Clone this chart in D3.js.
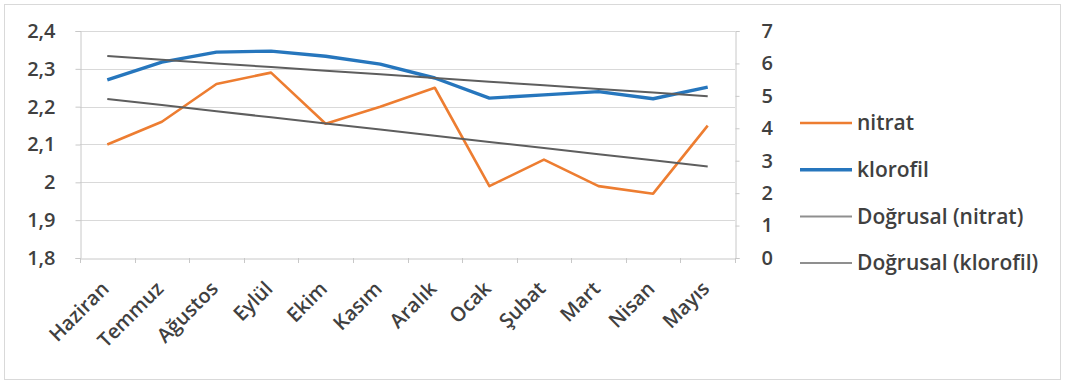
<!DOCTYPE html>
<html>
<head>
<meta charset="utf-8">
<script src="https://cdn.jsdelivr.net/npm/d3@7"></script>
<style>
  html, body { margin: 0; padding: 0; background: #fff; }
  svg { display: block; }
  text { font-family: "Open Sans", "Noto Sans", sans-serif; fill: #404040; font-weight: 600; }
</style>
</head>
<body>
<svg id="chart" width="1065" height="385"></svg>
<script>
// Monthly categories (June to May)
const months = ["Haziran", "Temmuz", "Ağustos", "Eylül", "Ekim", "Kasım", "Aralık", "Ocak", "Şubat", "Mart", "Nisan", "Mayıs"];
// nitrat on the primary (left) axis
const nitrat = [2.10, 2.16, 2.26, 2.29, 2.155, 2.20, 2.25, 1.99, 2.06, 1.99, 1.97, 2.15];
// klorofil on the secondary (right) axis
const klorofil = [5.49, 6.04, 6.35, 6.38, 6.22, 5.98, 5.55, 4.93, 5.03, 5.13, 4.91, 5.27];
// Axis ticks
const leftTicks = [1.8, 1.9, 2.0, 2.1, 2.2, 2.3, 2.4];
const rightTicks = [0, 1, 2, 3, 4, 5, 6, 7];
const legendLabels = ["nitrat", "klorofil", "Doğrusal (nitrat)", "Doğrusal (klorofil)"];

const colors = { nitrat: "#ED7D31", klorofil: "#2676BD", trend: "#5e5e5e", trendLegend: "#8f8f8f", grid: "#d9d9d9", axis: "#c8c8c8" };

const svg = d3.select("#chart");
const plot = { left: 80, right: 735, top: 31, bottom: 258 };

// Outer chart border
svg.append("rect")
  .attr("x", 4.5).attr("y", 4.5).attr("width", 1056).attr("height", 375)
  .attr("fill", "#fff").attr("stroke", "#d9d9d9").attr("stroke-width", 1);

const x = d3.scaleBand().domain(months).range([plot.left, plot.right]).paddingInner(0).paddingOuter(0);
const yL = d3.scaleLinear().domain([1.8, 2.4]).range([plot.bottom, plot.top]);
const yR = d3.scaleLinear().domain([0, 7]).range([plot.bottom, plot.top]);
const cx = m => x(m) + x.bandwidth() / 2;

const fmt = v => d3.format("~g")(+v.toFixed(1)).replace(".", ",");

// Horizontal gridlines
svg.append("g").selectAll("line").data(leftTicks.slice(1)).join("line")
  .attr("x1", plot.left).attr("x2", plot.right)
  .attr("y1", d => Math.round(yL(d)) + 0.5).attr("y2", d => Math.round(yL(d)) + 0.5)
  .attr("stroke", colors.grid).attr("stroke-width", 1);

// Left axis
const axL = svg.append("g").attr("transform", `translate(${plot.left + 0.5},0)`)
  .call(d3.axisLeft(yL).tickValues(leftTicks).tickSize(5).tickPadding(20).tickFormat(fmt));
axL.selectAll("text").style("font-size", "20px").attr("fill", "#404040");

// Right axis
const axR = svg.append("g").attr("transform", `translate(${plot.right + 0.5},0)`)
  .call(d3.axisRight(yR).tickValues(rightTicks).tickSize(4).tickPadding(22).tickFormat(d3.format("d")));
axR.selectAll("text").style("font-size", "20px").attr("fill", "#404040");

// Bottom axis with ticks at category boundaries
const axB = svg.append("g").attr("transform", `translate(0,${plot.bottom + 0.5})`)
  .call(d3.axisBottom(x).tickSize(0).tickFormat(""));
svg.append("g").selectAll("line").data(months.concat(["_end"])).join("line")
  .attr("x1", (d, i) => Math.round(plot.left + i * x.bandwidth()) + 0.5)
  .attr("x2", (d, i) => Math.round(plot.left + i * x.bandwidth()) + 0.5)
  .attr("y1", plot.bottom).attr("y2", plot.bottom + 5)
  .attr("stroke", colors.axis);

[axL, axR, axB].forEach(g => {
  g.select(".domain").attr("stroke", colors.axis);
  g.selectAll(".tick line").attr("stroke", colors.axis);
  g.selectAll("text").style("font-family", "'Open Sans', sans-serif").style("font-weight", 600);
});

// Rotated month labels
svg.append("g").selectAll("text").data(months).join("text")
  .attr("transform", d => `translate(${cx(d) - 2},${plot.bottom + 27}) rotate(-45)`)
  .attr("text-anchor", "end")
  .attr("dy", "0.35em")
  .style("font-size", "20px")
  .text(d => d);

// Linear trendline (least squares) over category index
function trend(vals) {
  const n = vals.length;
  const xs = d3.range(n);
  const mx = d3.mean(xs), my = d3.mean(vals);
  const b = d3.sum(xs, i => (i - mx) * (vals[i] - my)) / d3.sum(xs, i => (i - mx) ** 2);
  const a = my - b * mx;
  return xs.map(i => a + b * i);
}

const lineL = d3.line().x((d, i) => cx(months[i])).y(d => yL(d));
const lineR = d3.line().x((d, i) => cx(months[i])).y(d => yR(d));

// Data series
svg.append("path").datum(nitrat).attr("d", lineL)
  .attr("fill", "none").attr("stroke", colors.nitrat).attr("stroke-width", 2.6).attr("stroke-linejoin", "round");
svg.append("path").datum(klorofil).attr("d", lineR)
  .attr("fill", "none").attr("stroke", colors.klorofil).attr("stroke-width", 3.4).attr("stroke-linejoin", "round");

// Trendlines
svg.append("path").datum(trend(nitrat)).attr("d", lineL)
  .attr("fill", "none").attr("stroke", colors.trend).attr("stroke-width", 2);
svg.append("path").datum(trend(klorofil)).attr("d", lineR)
  .attr("fill", "none").attr("stroke", colors.trend).attr("stroke-width", 2);

// Legend
const legColors = [colors.nitrat, colors.klorofil, colors.trendLegend, colors.trendLegend];
const legWidths = [2.6, 3.4, 2, 2];
const leg = svg.append("g").selectAll("g").data(legendLabels).join("g")
  .attr("transform", (d, i) => `translate(800,${123 + i * 46.7})`);
leg.append("line").attr("x1", 0).attr("x2", 52).attr("y1", 0).attr("y2", 0)
  .attr("stroke", (d, i) => legColors[i]).attr("stroke-width", (d, i) => legWidths[i]);
leg.append("text").attr("x", 57).attr("dy", "0.35em").style("font-size", "21px").text(d => d);
</script>
</body>
</html>
